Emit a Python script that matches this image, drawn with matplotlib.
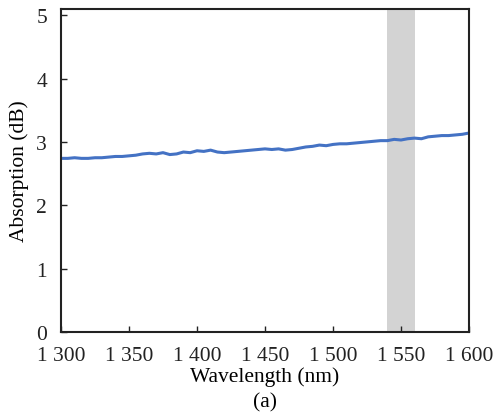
import numpy as np
import matplotlib.pyplot as plt

# データ (読み取り値)
wavelength = np.arange(1300, 1601, 5)
absorption = [2.74, 2.74, 2.75, 2.74, 2.74, 2.75, 2.75, 2.76, 2.77, 2.77,
              2.78, 2.79, 2.81, 2.82, 2.81, 2.83, 2.80, 2.81, 2.84, 2.83,
              2.86, 2.85, 2.87, 2.84, 2.83, 2.84, 2.85, 2.86, 2.87, 2.88,
              2.89, 2.88, 2.89, 2.87, 2.88, 2.90, 2.92, 2.93, 2.95, 2.94,
              2.96, 2.97, 2.97, 2.98, 2.99, 3.00, 3.01, 3.02, 3.02, 3.04,
              3.03, 3.05, 3.06, 3.05, 3.08, 3.09, 3.10, 3.10, 3.11, 3.12,
              3.14]
band = (1540, 1560)
xticks = [1300, 1350, 1400, 1450, 1500, 1550, 1600]
xtick_labels = ['1 300', '1 350', '1 400', '1 450', '1 500', '1 550', '1 600']

plt.rcParams['font.family'] = ['Liberation Serif', 'DejaVu Serif']

fig = plt.figure(figsize=(5, 4.14), dpi=100)
ax = fig.add_axes([0.122, 0.196, 0.816, 0.78])

ax.axvspan(band[0], band[1], color='#d3d3d3', lw=0, zorder=1)
ax.plot(wavelength, absorption, color='#4472c4', lw=2.2, zorder=2)

ax.set_xlim(1300, 1600)
ax.set_ylim(0, 5.1)
ax.set_xticks(xticks, labels=xtick_labels)
ax.set_yticks(range(6))
ax.tick_params(direction='in', length=4, width=1, labelsize=15.5, pad=10,
               colors='#222222')
for s in ax.spines.values():
    s.set_linewidth(1.5)
    s.set_color('#222222')

ax.set_xlabel('Wavelength (nm)', fontsize=15.5, labelpad=1)
ax.set_ylabel('Absorption (dB)', fontsize=15.5, labelpad=5)
fig.text(0.53, 0.028, '(a)', fontsize=15.5, ha='center', va='center')

fig.savefig('out.png', dpi=100)
